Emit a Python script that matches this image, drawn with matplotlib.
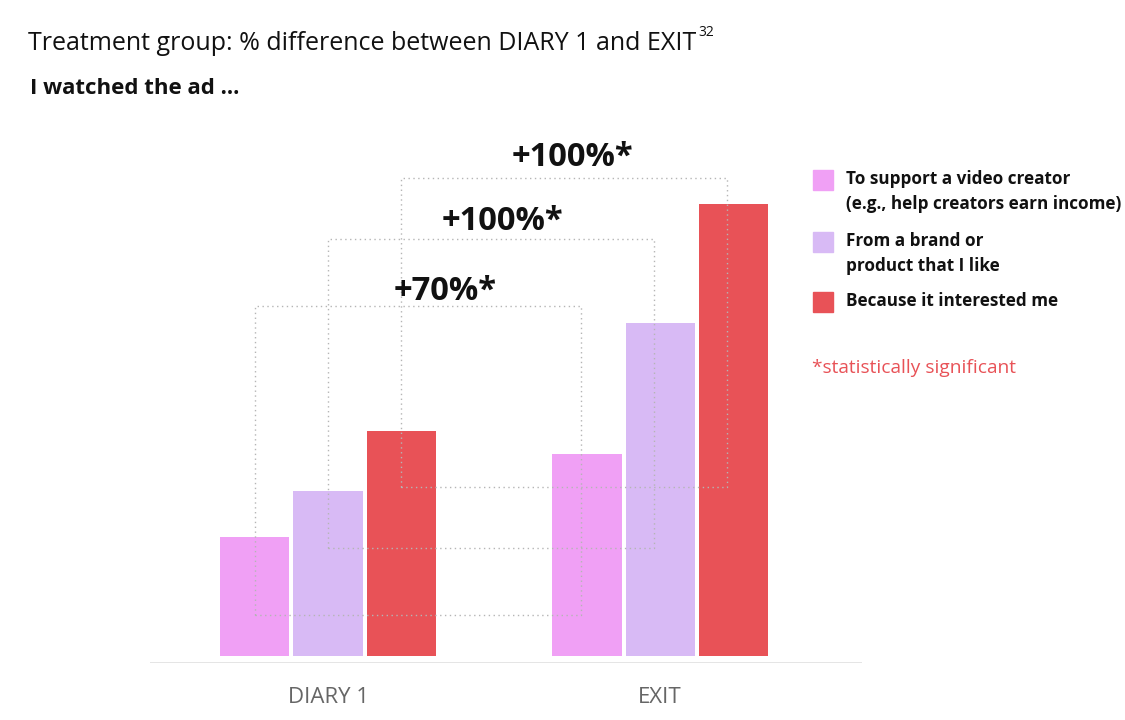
import matplotlib.pyplot as plt

plt.rcParams['font.family'] = ['Open Sans', 'DejaVu Sans']

# data
groups = ['DIARY 1', 'EXIT']
series = ['To support a video creator\n(e.g., help creators earn income)',
          'From a brand or\nproduct that I like',
          'Because it interested me']
support_creator = [11.9, 20.2]
brand_product = [16.5, 33.3]
interested_me = [22.5, 45.2]
diff_labels = ['+70%*', '+100%*', '+100%*']

colors = ['#F0A0F5', '#D8BAF5', '#E85257']
values = [support_creator, brand_product, interested_me]

fig = plt.figure(figsize=(11.25, 7.2), dpi=100)
ax = fig.add_axes([150 / 1125, 1 - 663 / 720, 712 / 1125, 523 / 720])

step = 0.22
width = 0.208
xs = [0, 1]
for i, (vals, col) in enumerate(zip(values, colors)):
    pos = [x + (i - 1) * step for x in xs]
    ax.bar(pos, vals, width=width, color=col, zorder=2)

# dotted comparison brackets
bracket_tops = [35.0, 41.7, 47.8]
bracket_depth = 30.9
label_pos = [(0.353, 36.4), (0.524, 43.5), (0.735, 49.9)]
for i in range(3):
    x0 = 0 + (i - 1) * step
    x1 = 1 + (i - 1) * step - 0.018
    top = bracket_tops[i]
    bot = top - bracket_depth
    ax.plot([x0, x0, x1, x1, x0], [bot, top, top, bot, bot], ls=(0, (1, 2.5)),
            color='#b5b5b5', lw=1, zorder=3)
    ax.text(label_pos[i][0], label_pos[i][1], diff_labels[i], ha='center', va='center',
            fontsize=23.5, fontweight='bold', color='#111111', zorder=4)

ax.set_xlim(-0.536, 1.608)
ax.set_ylim(-0.7, 51.6)
ax.axhline(-0.7, color='#e2e2e2', lw=2, zorder=1)
for s in ax.spines.values():
    s.set_visible(False)
ax.set_yticks([])
ax.set_xticks(xs)
ax.set_xticklabels(groups, fontsize=16, color='#666666')
ax.tick_params(axis='x', length=0, pad=17)

# titles
title = fig.text(28 / 1125, 1 - 43 / 720, 'Treatment group: % difference between DIARY 1 and EXIT',
                 fontsize=18, va='center', ha='left', color='#111111')
fig.add_artist(plt.Annotation('32', xy=(1, 0.62), xycoords=title, xytext=(1.5, 0),
                              textcoords='offset points', fontsize=10, va='bottom',
                              ha='left', color='#111111'))
fig.text(30 / 1125, 1 - 88 / 720, 'I watched the ad ...', fontsize=16, fontweight='bold',
         va='center', ha='left', color='#111111')

# legend
legend_y = [180, 242, 302]
for lab, col, y in zip(series, colors, legend_y):
    fig.patches.append(plt.Rectangle((813 / 1125, 1 - (y + 10) / 720), 20 / 1125, 20 / 720,
                                     transform=fig.transFigure, color=col))
    fig.text(846 / 1125, 1 - (y - 10) / 720, lab, fontsize=12.3, fontweight='bold',
             va='top', ha='left', color='#111111', linespacing=1.5)
fig.text(812 / 1125, 1 - 368 / 720, '*statistically significant', fontsize=13.8,
         color='#E85257', va='center', ha='left')

fig.savefig('out.png', dpi=100, facecolor='white')
